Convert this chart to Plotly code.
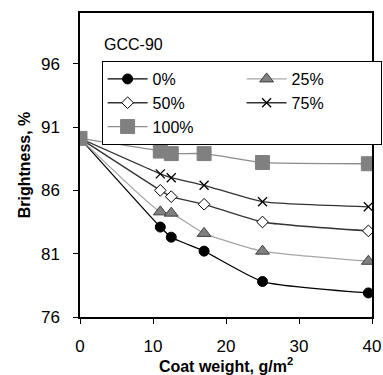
import plotly.graph_objects as go

coat_weight = [0, 11, 12.5, 17, 25, 39.5]
series_names = ["0%", "25%", "50%", "75%", "100%"]
b0 = [90.1, 83.1, 82.3, 81.2, 78.8, 77.9]
b25 = [90.1, 84.3, 84.2, 82.6, 81.2, 80.4]
b50 = [90.1, 86.0, 85.5, 84.9, 83.5, 82.8]
b75 = [90.1, 87.3, 87.0, 86.4, 85.1, 84.7]
b100 = [90.1, 89.1, 88.9, 88.9, 88.2, 88.1]
x_ticks = [0, 10, 20, 30, 40]
y_ticks = [76, 81, 86, 91, 96]

FONT = "Liberation Sans, Arial, sans-serif"

styles = [
    dict(line=dict(color="#000000", width=1.3),
         marker=dict(symbol="circle", size=10, color="#000000", line=dict(color="#000000", width=1))),
    dict(line=dict(color="#a6a6a6", width=1.3),
         marker=dict(symbol="triangle-up", size=12, color="#808080", line=dict(color="#404040", width=1))),
    dict(line=dict(color="#333333", width=1.3),
         marker=dict(symbol="diamond", size=9, color="#ffffff", line=dict(color="#000000", width=1))),
    dict(line=dict(color="#333333", width=1.3),
         marker=dict(symbol="x-thin", size=9, color="#000000", line=dict(color="#000000", width=1.3))),
    dict(line=dict(color="#8c8c8c", width=1.3),
         marker=dict(symbol="square", size=14, color="#808080", line=dict(color="#808080", width=1))),
]

fig = go.Figure()
for name, ys, st in zip(series_names, [b0, b25, b50, b75, b100], styles):
    fig.add_trace(go.Scatter(
        x=coat_weight, y=ys, name=name, mode="lines+markers",
        line=dict(shape="spline", smoothing=0.5, **st["line"]),
        marker=st["marker"],
    ))

fig.update_layout(
    width=383, height=375,
    margin=dict(l=80, r=11, t=13, b=58, autoexpand=False),
    paper_bgcolor="white", plot_bgcolor="white",
    font=dict(family=FONT, size=17, color="#000000"),
    showlegend=True,
    legend=dict(
        orientation="h", x=0.074, y=0.842, xanchor="left", yanchor="top",
        bgcolor="white", bordercolor="#000000", borderwidth=1,
        font=dict(size=16), entrywidth=84, entrywidthmode="pixels",
        tracegroupgap=0, itemwidth=40,
    ),
    annotations=[dict(
        text="GCC-90", x=0.074, y=0.895, xref="paper", yref="paper",
        xanchor="left", yanchor="middle", showarrow=False,
        font=dict(size=16, family=FONT),
    )],
)

fig.update_xaxes(
    range=[0, 40], tickvals=x_ticks, ticks="outside", ticklen=5, tickwidth=1,
    tickcolor="#000000", showline=True, linecolor="#000000", linewidth=1.5,
    mirror=True, showgrid=False, zeroline=False, ticklabelstandoff=8,
    automargin=False,
    title=dict(text="<b>Coat weight, g/m<sup>2</sup></b>", standoff=2,
               font=dict(size=16, family=FONT)),
)
fig.update_yaxes(
    range=[76, 100], tickvals=y_ticks, ticks="outside", ticklen=5, tickwidth=1,
    tickcolor="#000000", showline=True, linecolor="#000000", linewidth=1.5,
    mirror=True, showgrid=False, zeroline=False, ticklabelstandoff=10,
    automargin=False,
    title=dict(text="<b>Brightness, %</b>", standoff=6,
               font=dict(size=16, family=FONT)),
)

fig.write_html(
    "out.html",
    config={"displayModeBar": False},
    post_script="document.body.style.margin='0';",
)
